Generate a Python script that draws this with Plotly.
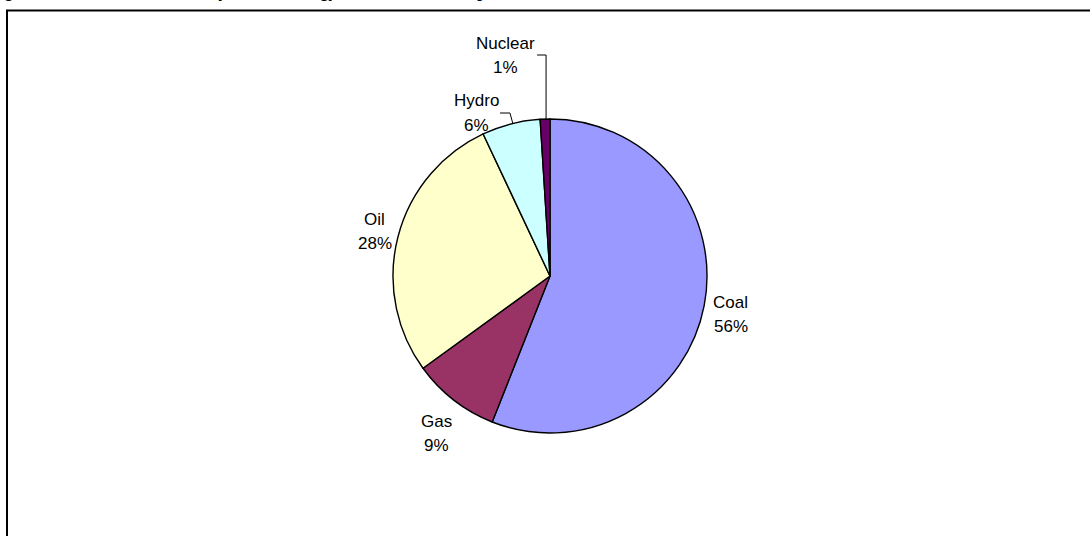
import math
import plotly.graph_objects as go

# Electricity generation by energy source (share, %)
sources = ["Coal", "Gas", "Oil", "Hydro", "Nuclear"]
shares = [56, 9, 28, 6, 1]
colors = ["#9999FF", "#993366", "#FFFFCC", "#CCFFFF", "#660066"]

W, H = 1090, 536
CX, CY, R = 550, 276, 157  # pie centre and radius in pixels


def px(x):
    return x / W


def py(y):
    return 1 - y / H


fig = go.Figure(
    go.Pie(
        labels=sources,
        values=shares,
        sort=False,
        direction="clockwise",
        rotation=0,
        marker=dict(colors=colors, line=dict(color="#000000", width=1.4)),
        textinfo="none",
        hoverinfo="label+percent",
        showlegend=False,
        domain=dict(x=[px(CX - R), px(CX + R)], y=[py(CY + R), py(CY - R)]),
    )
)

# label block centres (pixels) and line spacing
label_pos = {
    "Coal": (730.5, 314.5),
    "Gas": (436, 433.5),
    "Oil": (374.5, 231.5),
    "Hydro": (476, 113),
    "Nuclear": (505, 55.5),
}
LINE_GAP = 24.5

total = sum(shares)
mid_angle = {}
acc = 0
for s, v in zip(sources, shares):
    mid_angle[s] = (acc + v / 2) / total * 2 * math.pi
    acc += v


def edge_point(name):
    a = mid_angle[name]
    return CX + R * math.sin(a), CY - R * math.cos(a)


label_font = dict(family="Liberation Sans, Arial, sans-serif", size=17, color="#000000")
annotations = []
for s, v in zip(sources, shares):
    x, y = label_pos[s]
    for text, yy in ((s, y - LINE_GAP / 2), (f"{v}%", y + LINE_GAP / 2)):
        annotations.append(
            dict(
                x=px(x), y=py(yy), xref="paper", yref="paper",
                text=text, showarrow=False, font=label_font,
                xanchor="center", yanchor="middle", align="center",
            )
        )

# page title (sits above the visible area; only its lowest strokes show)
annotations.append(
    dict(
        x=px(-14), y=py(3), xref="paper", yref="paper",
        text="<b><i>Figure 2.1: Shares in Electricity Sector Energy Resource Consumption</i></b>",
        showarrow=False, xanchor="left", yanchor="bottom",
        font=dict(family="Liberation Serif, Times New Roman, serif", size=18, color="#000000"),
    )
)

shapes = []
# leader lines for the small slices
hx, hy = edge_point("Hydro")
shapes.append(dict(type="path", xref="paper", yref="paper",
                   path=f"M {px(hx + 2)},{py(hy)} L {px(hx - 1)},{py(113)} L {px(hx - 11)},{py(113)}",
                   line=dict(color="#000000", width=1)))
nx, ny = edge_point("Nuclear")
shapes.append(dict(type="path", xref="paper", yref="paper",
                   path=f"M {px(nx + 1)},{py(ny)} L {px(nx + 1)},{py(55)} L {px(nx - 8)},{py(55)}",
                   line=dict(color="#000000", width=1)))
# chart frame (left and top edges)
shapes.append(dict(type="path", xref="paper", yref="paper",
                   path=f"M {px(7)},{py(H + 5)} L {px(7)},{py(10.5)} L {px(W + 5)},{py(10.5)}",
                   line=dict(color="#000000", width=2)))

fig.update_layout(
    width=W, height=H,
    margin=dict(l=0, r=0, t=0, b=0),
    paper_bgcolor="#FFFFFF",
    plot_bgcolor="#FFFFFF",
    annotations=annotations,
    shapes=shapes,
)

fig.write_html("out.html")
